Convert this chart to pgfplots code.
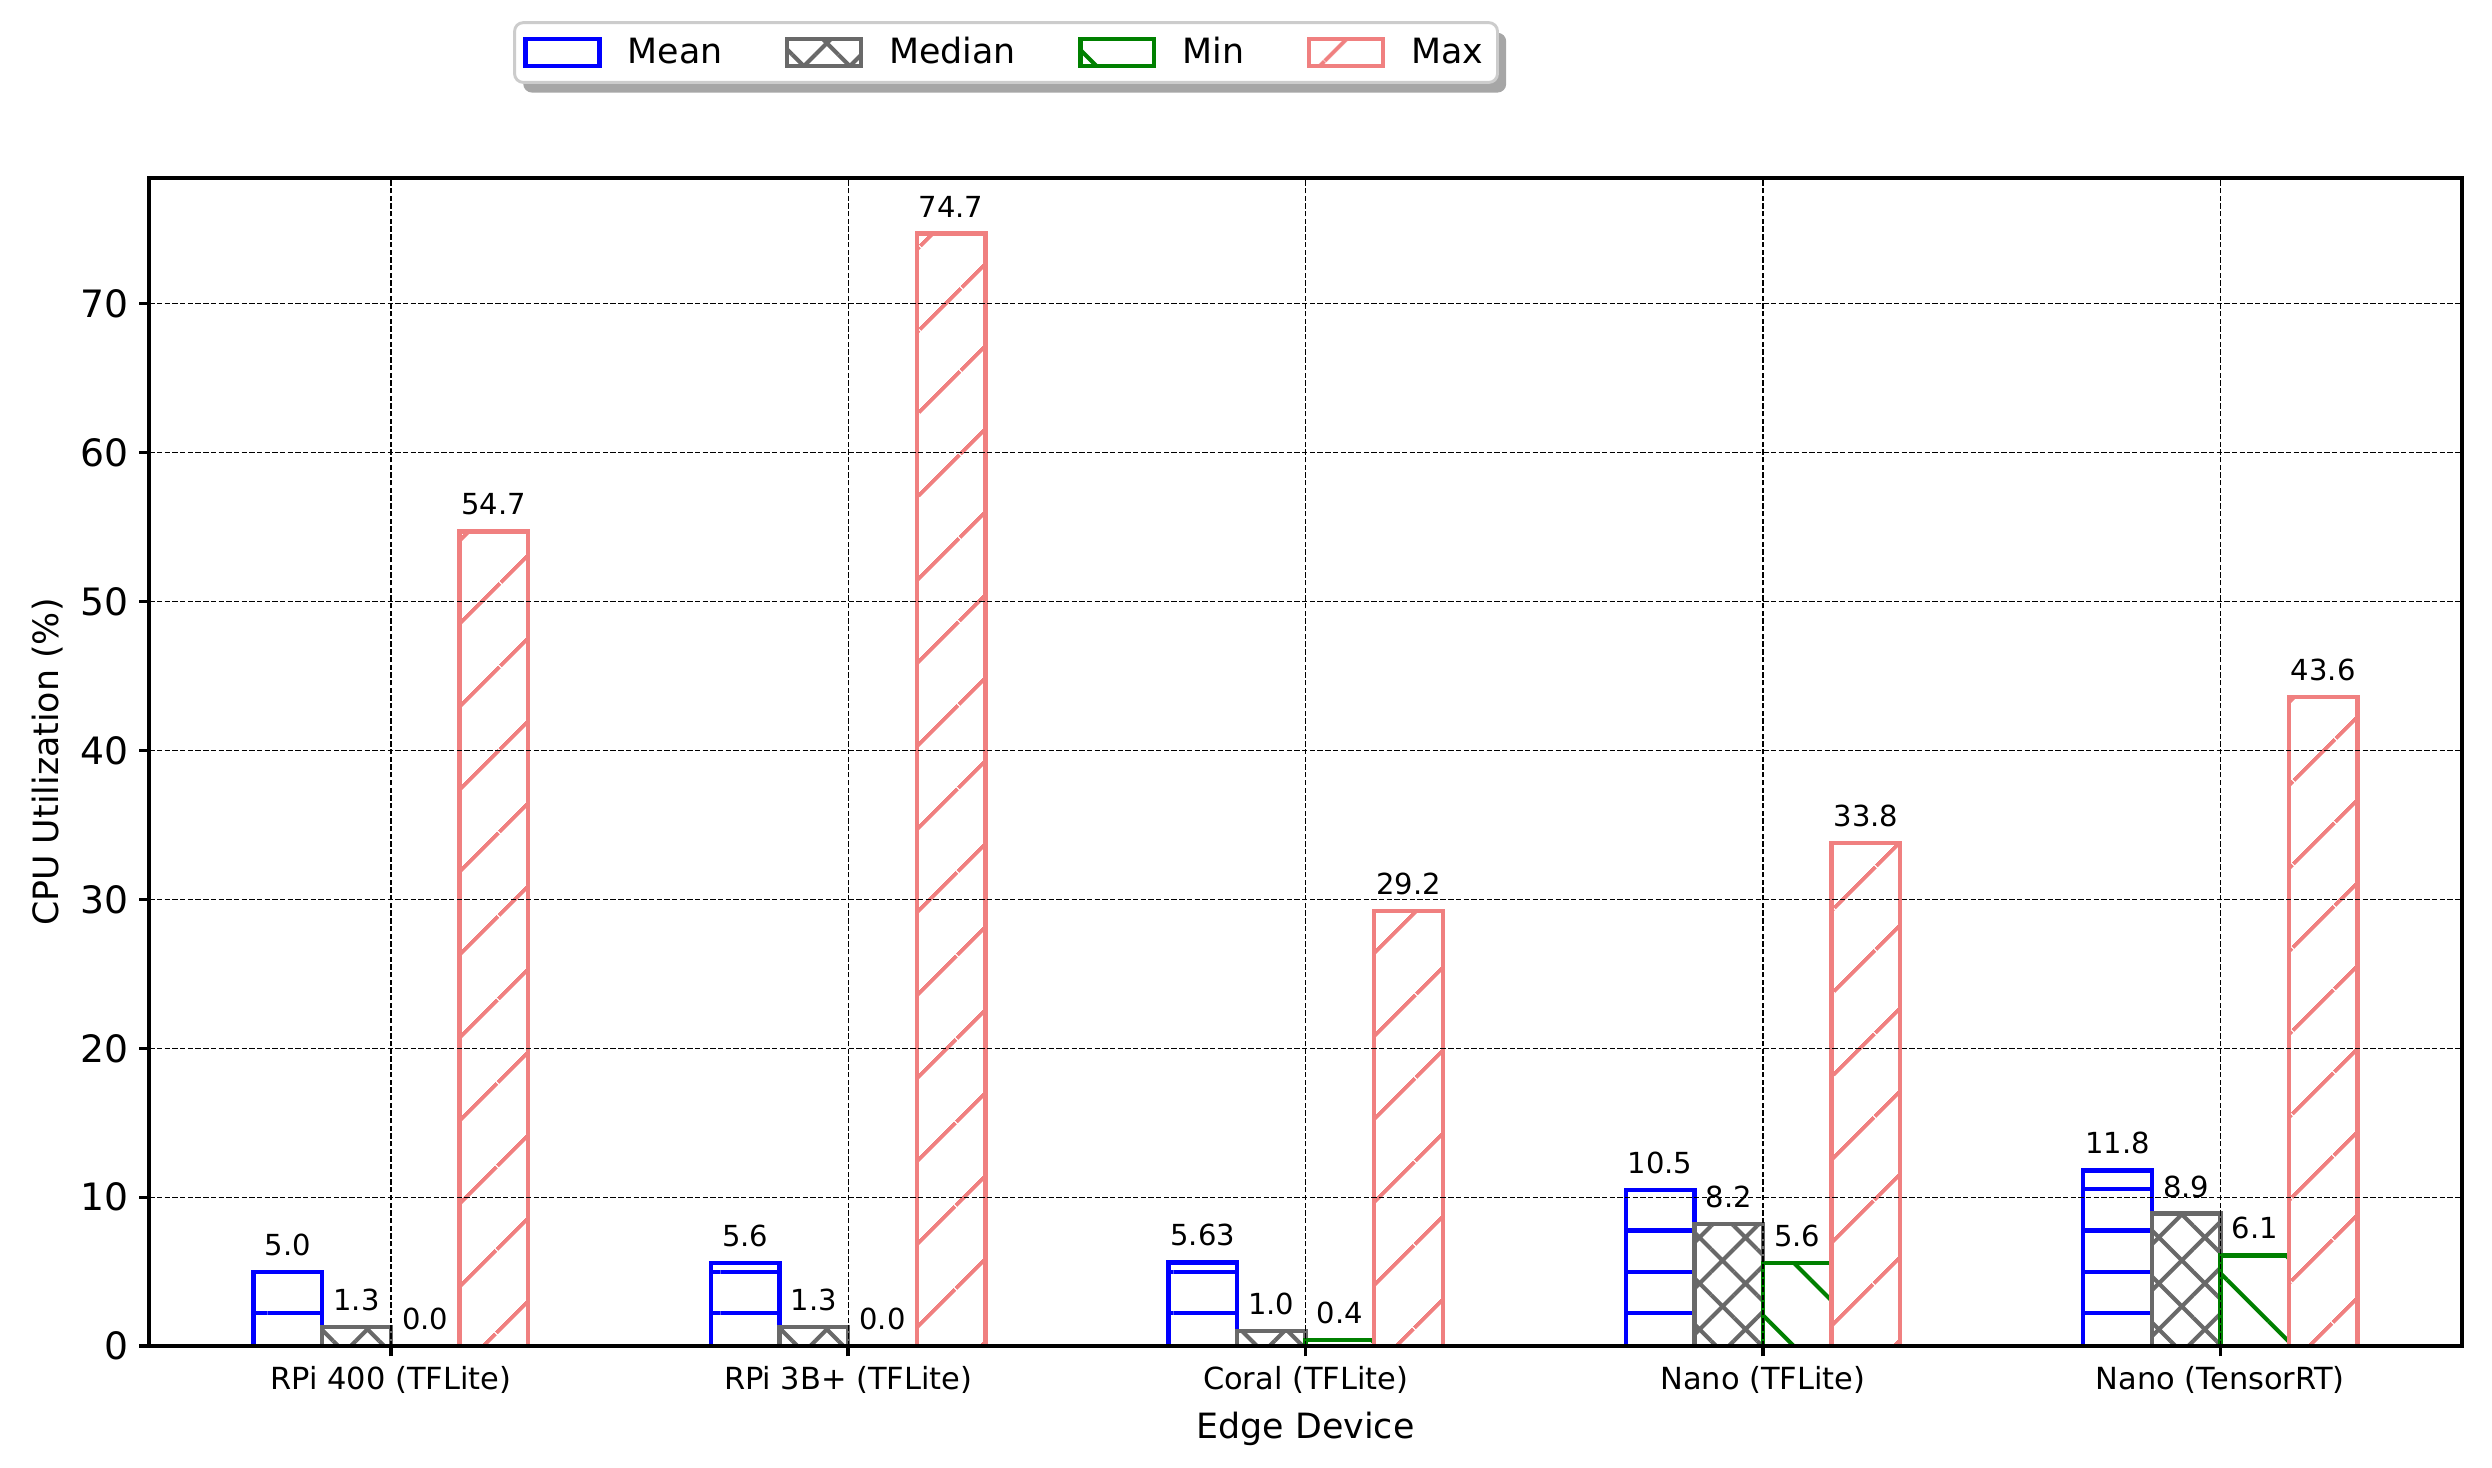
\documentclass[border=0pt]{standalone}
\usepackage{pgfplots}
\pgfplotsset{compat=1.18}
\usepackage{fontspec}
\setmainfont{DejaVu Sans}
\usetikzlibrary{patterns.meta,shadows}

\definecolor{cmean}{RGB}{0,0,255}
\definecolor{cmedian}{RGB}{105,105,105}
\definecolor{cmin}{RGB}{0,128,0}
\definecolor{cmax}{RGB}{240,128,128}

\makeatletter
\tikzset{no preactions/.code={\let\tikz@preactions\pgfutil@empty}}
\makeatother

\begin{document}
\begin{tikzpicture}
\begin{axis}[
    scale only axis, width=797.4pt, height=402.8pt,
    xmin=-0.528, xmax=4.528, ymin=0, ymax=78.43,
    ybar=0pt, bar width=0.15,
    axis on top,
    xtick={0,...,4},
    xticklabels={RPi 400 (TFLite), RPi 3B+ (TFLite), Coral (TFLite), Nano (TFLite), Nano (TensorRT)},
    ytick={0,10,...,70},
    tick pos=left, tick align=outside, major tick length=3.5pt,
    every tick/.style={black, line width=1.2pt},
    axis line style={line width=1.4pt},
    grid=major,
    major grid style={black, line width=0.5pt, dash pattern=on 1.85pt off 0.8pt},
    x tick label style={font=\fontsize{10.5}{12}\selectfont},
    y tick label style={font=\fontsize{13}{15}\selectfont},
    /pgf/number format/assume math mode=true,
    xlabel={Edge Device}, ylabel={CPU Utilization (\%)},
    every axis x label/.style={at={(axis description cs:0.5,-0.071)}, anchor=center, font=\fontsize{12}{14}\selectfont},
    every axis y label/.style={at={(axis description cs:-0.0439,0.5)}, rotate=90, anchor=center, font=\fontsize{12}{14}\selectfont},
    clip=false,
    nodes near coords, point meta=explicit symbolic,
    every node near coord/.append style={font=\fontsize{10}{12}\selectfont, anchor=south, inner sep=0pt, yshift=4.8pt, text=black},
    legend columns=4,
    legend style={at={(0.1573,1.1343)}, anchor=north west,
        draw=black!20, line width=1pt, rounded corners=3pt, fill=white,
        font=\fontsize{12}{14}\selectfont, inner xsep=3pt, inner ysep=3pt,
        drop shadow={shadow xshift=3pt, shadow yshift=-3.5pt, fill=black!35, opacity=1},
        /tikz/every odd column/.append style={column sep=7pt},
        /tikz/every even column/.append style={column sep=19.5pt}},
    legend cell align=left,
    every axis plot post/.append style={legend image code/.code={\draw[no preactions, ##1, sharp corners] (0pt,-4.6pt) rectangle (25.5pt,4.6pt);}},
]
\addplot[draw=cmean, line width=1.5pt, pattern={Lines[angle=0,distance=14.2pt,line width=1.4pt,yshift=-3.6pt]}, pattern color=cmean]
    coordinates {(0,5.0)[5.0] (1,5.6)[5.6] (2,5.63)[5.63] (3,10.5)[10.5] (4,11.8)[11.8]};
\addlegendentry{Mean}
\addplot[draw=cmedian, line width=1.5pt, pattern={Hatch[angle=45,distance=11.2pt,line width=1.4pt]}, pattern color=cmedian]
    coordinates {(0,1.3)[1.3] (1,1.3)[1.3] (2,1.0)[1.0] (3,8.2)[8.2] (4,8.9)[8.9]};
\addlegendentry{Median}
\addplot[draw=cmin, line width=1.5pt, pattern={Lines[angle=-45,distance=20.3pt,line width=1.4pt]}, pattern color=cmin]
    coordinates {(0,0.0)[0.0] (1,0.0)[0.0] (2,0.4)[0.4] (3,5.6)[5.6] (4,6.1)[6.1]};
\addlegendentry{Min}
\addplot[draw=cmax, line width=1.5pt, pattern={Lines[angle=45,distance=20.5pt,line width=1.4pt]}, pattern color=cmax]
    coordinates {(0,54.7)[54.7] (1,74.7)[74.7] (2,29.2)[29.2] (3,33.8)[33.8] (4,43.6)[43.6]};
\addlegendentry{Max}
\end{axis}
\pgfresetboundingbox
\path ([shift={(-51.5pt,-41.7pt)}]current axis.south west) rectangle ([shift={(10.4pt,61.4pt)}]current axis.north east);
\end{tikzpicture}
\end{document}
